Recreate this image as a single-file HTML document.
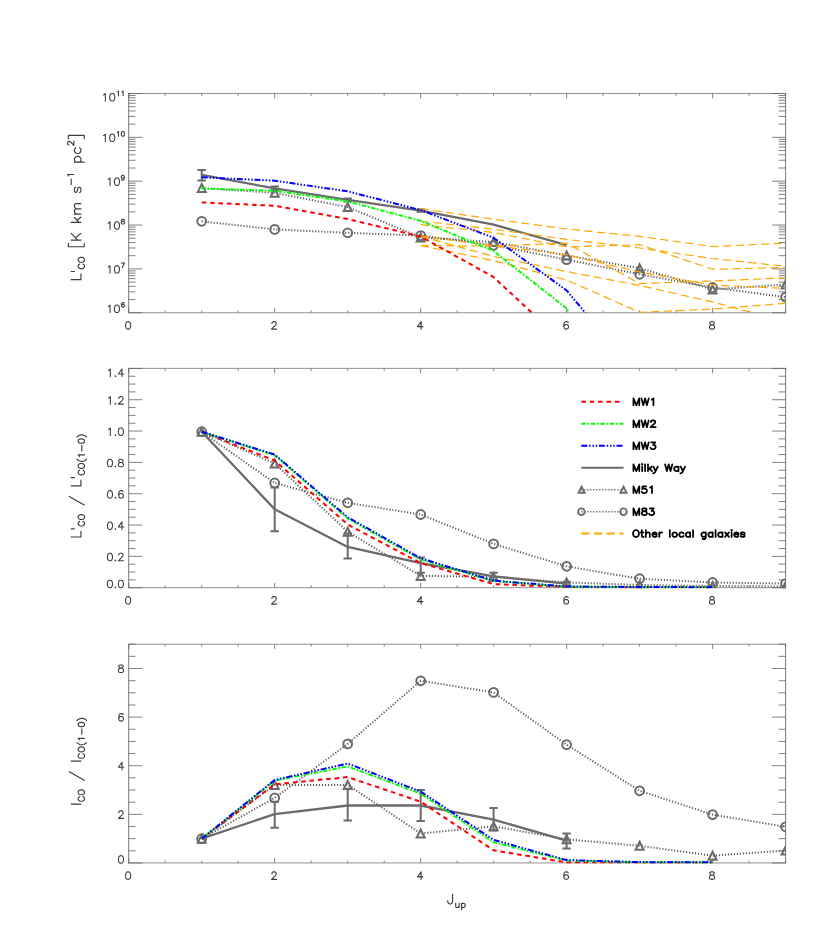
<!DOCTYPE html>
<html><head><meta charset="utf-8"><title>CO SLED</title>
<style>
html,body{margin:0;padding:0;background:#fff;}
svg{display:block;}
text{font-family:"Liberation Sans",sans-serif;}
.tk{font-size:11.5px;fill:#3c3c3c;}
.ex{font-size:6.8px;}
.al{font-size:14.5px;fill:#3c3c3c;}
.sb{font-size:9px;}
.sb2{font-size:9px;fill:#3c3c3c;}
.lg{font-size:11.5px;font-weight:bold;fill:#000;}
polyline,line{fill:none;}
.or{stroke:#ffa500;stroke-width:1.2;stroke-dasharray:8.2 4.5;}
.rd{stroke:#ff0000;stroke-width:2;stroke-dasharray:4.6 3.8;}
.gn{stroke:#00ff00;stroke-width:2;stroke-dasharray:4.5 1.7 1.6 1.7;}
.bl{stroke:#0000ff;stroke-width:2;stroke-dasharray:6 1.8 1.5 1.8 1.5 1.8 1.5 1.7;}
.dt{stroke:#5a5a5a;stroke-width:2;stroke-dasharray:1.15 1.85;}
.mw{stroke:#6b6b6b;stroke-width:2.3;stroke-linejoin:round;}
.eb{stroke:#6b6b6b;stroke-width:2;fill:none;}
.mk{stroke:#6b6b6b;fill:none;stroke-linejoin:miter;}
.ht{stroke:#3c3c3c;fill:none;stroke-linecap:round;stroke-linejoin:round;}
.hl{stroke:#000;fill:none;stroke-linecap:round;stroke-linejoin:round;}
</style></head>
<body>
<svg width="830" height="935" viewBox="0 0 830 935">
<rect width="830" height="935" fill="#fff"/>
<path d="M128.2 93.5H786.1M128.2 312.75H786.1" stroke="#666" stroke-width="0.72" fill="none"/>
<path d="M128.7 93.1V313.15M785.6 93.1V313.15" stroke="#666" stroke-width="0.88" fill="none"/>
<path d="M128.70 312.75v-4.8M128.70 93.5v4.8M165.19 312.75v-2.4M165.19 93.5v2.4M201.69 312.75v-2.4M201.69 93.5v2.4M238.18 312.75v-2.4M238.18 93.5v2.4M274.68 312.75v-4.8M274.68 93.5v4.8M311.17 312.75v-2.4M311.17 93.5v2.4M347.67 312.75v-2.4M347.67 93.5v2.4M384.16 312.75v-2.4M384.16 93.5v2.4M420.66 312.75v-4.8M420.66 93.5v4.8M457.15 312.75v-2.4M457.15 93.5v2.4M493.64 312.75v-2.4M493.64 93.5v2.4M530.14 312.75v-2.4M530.14 93.5v2.4M566.63 312.75v-4.8M566.63 93.5v4.8M603.13 312.75v-2.4M603.13 93.5v2.4M639.62 312.75v-2.4M639.62 93.5v2.4M676.12 312.75v-2.4M676.12 93.5v2.4M712.61 312.75v-4.8M712.61 93.5v4.8M749.11 312.75v-2.4M749.11 93.5v2.4M785.60 312.75v-2.4M785.60 93.5v2.4M128.7 312.75h13.6M785.6 312.75h-13.6M128.7 268.90h13.6M785.6 268.90h-13.6M128.7 225.05h13.6M785.6 225.05h-13.6M128.7 181.20h13.6M785.6 181.20h-13.6M128.7 137.35h13.6M785.6 137.35h-13.6M128.7 93.50h13.6M785.6 93.50h-13.6M128.7 299.55h6.9M785.6 299.55h-6.9M128.7 291.83h6.9M785.6 291.83h-6.9M128.7 286.35h6.9M785.6 286.35h-6.9M128.7 282.10h6.9M785.6 282.10h-6.9M128.7 278.63h6.9M785.6 278.63h-6.9M128.7 275.69h6.9M785.6 275.69h-6.9M128.7 273.15h6.9M785.6 273.15h-6.9M128.7 270.91h6.9M785.6 270.91h-6.9M128.7 255.70h6.9M785.6 255.70h-6.9M128.7 247.98h6.9M785.6 247.98h-6.9M128.7 242.50h6.9M785.6 242.50h-6.9M128.7 238.25h6.9M785.6 238.25h-6.9M128.7 234.78h6.9M785.6 234.78h-6.9M128.7 231.84h6.9M785.6 231.84h-6.9M128.7 229.30h6.9M785.6 229.30h-6.9M128.7 227.06h6.9M785.6 227.06h-6.9M128.7 211.85h6.9M785.6 211.85h-6.9M128.7 204.13h6.9M785.6 204.13h-6.9M128.7 198.65h6.9M785.6 198.65h-6.9M128.7 194.40h6.9M785.6 194.40h-6.9M128.7 190.93h6.9M785.6 190.93h-6.9M128.7 187.99h6.9M785.6 187.99h-6.9M128.7 185.45h6.9M785.6 185.45h-6.9M128.7 183.21h6.9M785.6 183.21h-6.9M128.7 168.00h6.9M785.6 168.00h-6.9M128.7 160.28h6.9M785.6 160.28h-6.9M128.7 154.80h6.9M785.6 154.80h-6.9M128.7 150.55h6.9M785.6 150.55h-6.9M128.7 147.08h6.9M785.6 147.08h-6.9M128.7 144.14h6.9M785.6 144.14h-6.9M128.7 141.60h6.9M785.6 141.60h-6.9M128.7 139.36h6.9M785.6 139.36h-6.9M128.7 124.15h6.9M785.6 124.15h-6.9M128.7 116.43h6.9M785.6 116.43h-6.9M128.7 110.95h6.9M785.6 110.95h-6.9M128.7 106.70h6.9M785.6 106.70h-6.9M128.7 103.23h6.9M785.6 103.23h-6.9M128.7 100.29h6.9M785.6 100.29h-6.9M128.7 97.75h6.9M785.6 97.75h-6.9M128.7 95.51h6.9M785.6 95.51h-6.9" stroke="#666" stroke-width="0.82" fill="none"/>
<path transform="translate(128.10,329.15)" d="M-0.36 -7.50L-1.45 -7.14L-2.18 -6.07L-2.54 -4.28L-2.54 -3.21L-2.18 -1.43L-1.45 -0.36L-0.36 0.00L0.36 0.00L1.45 -0.36L2.18 -1.43L2.54 -3.21L2.54 -4.28L2.18 -6.07L1.45 -7.14L0.36 -7.50L-0.36 -7.50" class="ht" stroke-width="1.08"/>
<path transform="translate(274.08,329.15)" d="M-2.18 -5.71L-2.18 -6.07L-1.82 -6.78L-1.45 -7.14L-0.73 -7.50L0.73 -7.50L1.45 -7.14L1.82 -6.78L2.18 -6.07L2.18 -5.35L1.82 -4.64L1.09 -3.57L-2.54 0.00L2.54 0.00" class="ht" stroke-width="1.08"/>
<path transform="translate(420.06,329.15)" d="M1.09 -7.50L-2.54 -2.50L2.91 -2.50M1.09 -7.50L1.09 0.00" class="ht" stroke-width="1.08"/>
<path transform="translate(566.03,329.15)" d="M2.18 -6.43L1.82 -7.14L0.73 -7.50L0.00 -7.50L-1.09 -7.14L-1.82 -6.07L-2.18 -4.28L-2.18 -2.50L-1.82 -1.07L-1.09 -0.36L0.00 0.00L0.36 0.00L1.45 -0.36L2.18 -1.07L2.54 -2.14L2.54 -2.50L2.18 -3.57L1.45 -4.28L0.36 -4.64L0.00 -4.64L-1.09 -4.28L-1.82 -3.57L-2.18 -2.50" class="ht" stroke-width="1.08"/>
<path transform="translate(712.01,329.15)" d="M-0.73 -7.50L-1.82 -7.14L-2.18 -6.43L-2.18 -5.71L-1.82 -5.00L-1.09 -4.64L0.36 -4.28L1.45 -3.93L2.18 -3.21L2.54 -2.50L2.54 -1.43L2.18 -0.71L1.82 -0.36L0.73 0.00L-0.73 0.00L-1.82 -0.36L-2.18 -0.71L-2.54 -1.43L-2.54 -2.50L-2.18 -3.21L-1.45 -3.93L-0.36 -4.28L1.09 -4.64L1.82 -5.00L2.18 -5.71L2.18 -6.43L1.82 -7.14L0.73 -7.50L-0.73 -7.50" class="ht" stroke-width="1.08"/>
<path transform="translate(125.20,312.55)" d="M-17.01 -6.07L-16.28 -6.43L-15.19 -7.50L-15.19 0.00M-8.65 -7.50L-9.74 -7.14L-10.47 -6.07L-10.83 -4.28L-10.83 -3.21L-10.47 -1.43L-9.74 -0.36L-8.65 0.00L-7.92 0.00L-6.83 -0.36L-6.11 -1.43L-5.74 -3.21L-5.74 -4.28L-6.11 -6.07L-6.83 -7.14L-7.92 -7.50L-8.65 -7.50M-0.93 -9.36L-1.16 -9.82L-1.86 -10.05L-2.33 -10.05L-3.02 -9.82L-3.49 -9.13L-3.72 -7.99L-3.72 -6.85L-3.49 -5.93L-3.02 -5.48L-2.33 -5.25L-2.09 -5.25L-1.40 -5.48L-0.93 -5.93L-0.70 -6.62L-0.70 -6.85L-0.93 -7.53L-1.40 -7.99L-2.09 -8.22L-2.33 -8.22L-3.02 -7.99L-3.49 -7.53L-3.72 -6.85" class="ht" stroke-width="1.08"/>
<path transform="translate(125.20,273.10)" d="M-17.01 -6.07L-16.28 -6.43L-15.19 -7.50L-15.19 0.00M-8.65 -7.50L-9.74 -7.14L-10.47 -6.07L-10.83 -4.28L-10.83 -3.21L-10.47 -1.43L-9.74 -0.36L-8.65 0.00L-7.92 0.00L-6.83 -0.36L-6.11 -1.43L-5.74 -3.21L-5.74 -4.28L-6.11 -6.07L-6.83 -7.14L-7.92 -7.50L-8.65 -7.50M-0.70 -10.05L-3.02 -5.25M-3.95 -10.05L-0.70 -10.05" class="ht" stroke-width="1.08"/>
<path transform="translate(125.20,229.25)" d="M-17.01 -6.07L-16.28 -6.43L-15.19 -7.50L-15.19 0.00M-8.65 -7.50L-9.74 -7.14L-10.47 -6.07L-10.83 -4.28L-10.83 -3.21L-10.47 -1.43L-9.74 -0.36L-8.65 0.00L-7.92 0.00L-6.83 -0.36L-6.11 -1.43L-5.74 -3.21L-5.74 -4.28L-6.11 -6.07L-6.83 -7.14L-7.92 -7.50L-8.65 -7.50M-2.79 -10.05L-3.49 -9.82L-3.72 -9.36L-3.72 -8.90L-3.49 -8.45L-3.02 -8.22L-2.09 -7.99L-1.40 -7.76L-0.93 -7.30L-0.70 -6.85L-0.70 -6.16L-0.93 -5.70L-1.16 -5.48L-1.86 -5.25L-2.79 -5.25L-3.49 -5.48L-3.72 -5.70L-3.95 -6.16L-3.95 -6.85L-3.72 -7.30L-3.26 -7.76L-2.56 -7.99L-1.63 -8.22L-1.16 -8.45L-0.93 -8.90L-0.93 -9.36L-1.16 -9.82L-1.86 -10.05L-2.79 -10.05" class="ht" stroke-width="1.08"/>
<path transform="translate(125.20,185.40)" d="M-17.01 -6.07L-16.28 -6.43L-15.19 -7.50L-15.19 0.00M-8.65 -7.50L-9.74 -7.14L-10.47 -6.07L-10.83 -4.28L-10.83 -3.21L-10.47 -1.43L-9.74 -0.36L-8.65 0.00L-7.92 0.00L-6.83 -0.36L-6.11 -1.43L-5.74 -3.21L-5.74 -4.28L-6.11 -6.07L-6.83 -7.14L-7.92 -7.50L-8.65 -7.50M-0.93 -8.45L-1.16 -7.76L-1.63 -7.30L-2.33 -7.08L-2.56 -7.08L-3.26 -7.30L-3.72 -7.76L-3.95 -8.45L-3.95 -8.68L-3.72 -9.36L-3.26 -9.82L-2.56 -10.05L-2.33 -10.05L-1.63 -9.82L-1.16 -9.36L-0.93 -8.45L-0.93 -7.30L-1.16 -6.16L-1.63 -5.48L-2.33 -5.25L-2.79 -5.25L-3.49 -5.48L-3.72 -5.93" class="ht" stroke-width="1.08"/>
<path transform="translate(125.20,141.55)" d="M-21.66 -6.07L-20.94 -6.43L-19.85 -7.50L-19.85 0.00M-13.30 -7.50L-14.39 -7.14L-15.12 -6.07L-15.49 -4.28L-15.49 -3.21L-15.12 -1.43L-14.39 -0.36L-13.30 0.00L-12.58 0.00L-11.49 -0.36L-10.76 -1.43L-10.40 -3.21L-10.40 -4.28L-10.76 -6.07L-11.49 -7.14L-12.58 -7.50L-13.30 -7.50M-7.91 -9.13L-7.44 -9.36L-6.75 -10.05L-6.75 -5.25M-2.56 -10.05L-3.26 -9.82L-3.72 -9.13L-3.95 -7.99L-3.95 -7.30L-3.72 -6.16L-3.26 -5.48L-2.56 -5.25L-2.09 -5.25L-1.40 -5.48L-0.93 -6.16L-0.70 -7.30L-0.70 -7.99L-0.93 -9.13L-1.40 -9.82L-2.09 -10.05L-2.56 -10.05" class="ht" stroke-width="1.08"/>
<path transform="translate(125.20,101.00)" d="M-21.66 -6.07L-20.94 -6.43L-19.85 -7.50L-19.85 0.00M-13.30 -7.50L-14.39 -7.14L-15.12 -6.07L-15.49 -4.28L-15.49 -3.21L-15.12 -1.43L-14.39 -0.36L-13.30 0.00L-12.58 0.00L-11.49 -0.36L-10.76 -1.43L-10.40 -3.21L-10.40 -4.28L-10.76 -6.07L-11.49 -7.14L-12.58 -7.50L-13.30 -7.50M-7.91 -9.13L-7.44 -9.36L-6.75 -10.05L-6.75 -5.25M-3.26 -9.13L-2.79 -9.36L-2.09 -10.05L-2.09 -5.25" class="ht" stroke-width="1.08"/>
<clipPath id="c1"><rect x="128.7" y="93.5" width="656.9000000000001" height="219.25"/></clipPath>
<g clip-path="url(#c1)"><polyline points="201.7,188.1 274.7,192.8 347.7,207.1 420.7,237.4 493.6,242.1 566.6,255.4 639.6,268.2 712.6,289.4 785.6,284.6" class="dt" />
<polyline points="201.7,221.3 274.7,229.4 347.7,232.8 420.7,235.6 493.6,245.3 566.6,259.6 639.6,274.3 712.6,287.5 785.6,297.1" class="dt" />
<polyline points="201.7,174.9 274.7,188.4 347.7,199.8 420.7,210.6 493.6,224.6 566.6,245.1" class="mw" />
<path d="M201.7 170.1V180.4M197.5 170.1h8.4M197.5 180.4h8.4" class="eb"/>
<path d="M274.7 186.6V190.2M270.5 186.6h8.4M270.5 190.2h8.4" class="eb"/>
<path d="M347.7 198.4V201.4M343.5 198.4h8.4M343.5 201.4h8.4" class="eb"/>
<path d="M420.7 209.4V211.8M416.5 209.4h8.4M416.5 211.8h8.4" class="eb"/>
<path d="M197.7 192.1L201.7 184.1L205.7 192.1Z" class="mk" stroke-width="2.0"/>
<path d="M270.7 196.8L274.7 188.8L278.7 196.8Z" class="mk" stroke-width="2.0"/>
<path d="M343.7 211.1L347.7 203.1L351.7 211.1Z" class="mk" stroke-width="2.0"/>
<path d="M416.7 241.4L420.7 233.4L424.7 241.4Z" class="mk" stroke-width="2.0"/>
<path d="M489.6 246.1L493.6 238.1L497.6 246.1Z" class="mk" stroke-width="2.0"/>
<path d="M562.6 259.4L566.6 251.4L570.6 259.4Z" class="mk" stroke-width="2.0"/>
<path d="M635.6 272.2L639.6 264.2L643.6 272.2Z" class="mk" stroke-width="2.0"/>
<path d="M708.6 293.4L712.6 285.4L716.6 293.4Z" class="mk" stroke-width="2.0"/>
<path d="M781.6 288.6L785.6 280.6L789.6 288.6Z" class="mk" stroke-width="2.0"/>
<circle cx="201.7" cy="221.3" r="4.4" class="mk" stroke-width="2.0"/>
<circle cx="274.7" cy="229.4" r="4.4" class="mk" stroke-width="2.0"/>
<circle cx="347.7" cy="232.8" r="4.4" class="mk" stroke-width="2.0"/>
<circle cx="420.7" cy="235.6" r="4.4" class="mk" stroke-width="2.0"/>
<circle cx="493.6" cy="245.3" r="4.4" class="mk" stroke-width="2.0"/>
<circle cx="566.6" cy="259.6" r="4.4" class="mk" stroke-width="2.0"/>
<circle cx="639.6" cy="274.3" r="4.4" class="mk" stroke-width="2.0"/>
<circle cx="712.6" cy="287.5" r="4.4" class="mk" stroke-width="2.0"/>
<circle cx="785.6" cy="297.1" r="4.4" class="mk" stroke-width="2.0"/>
<polyline points="420.7,208.7 493.6,219.2 566.6,229.0 639.6,236.4 712.6,246.6 785.6,243.1" class="or" />
<polyline points="420.7,221.1 493.6,229.2 566.6,239.4 639.6,248.0 712.6,258.5 785.6,266.3" class="or" />
<polyline points="420.7,224.7 493.6,232.5 566.6,247.0 639.6,244.7 712.6,269.2 785.6,267.5" class="or" />
<polyline points="420.7,245.5 493.6,246.1 566.6,243.1 639.6,283.6 712.6,281.0 785.6,277.8" class="or" />
<polyline points="420.7,236.0 493.6,245.8 566.6,254.7 639.6,272.0 712.6,285.0 785.6,288.4" class="or" />
<polyline points="420.7,236.3 493.6,256.4 566.6,271.5 639.6,285.5 712.6,301.9 785.6,322.0" class="or" />
<polyline points="420.7,245.5 493.6,260.6 566.6,280.0 639.6,312.3 712.6,309.1 785.6,303.3" class="or" />
<polyline points="201.7,202.4 274.7,205.8 347.7,219.0 420.7,236.6 493.6,277.1 566.6,345.0" class="rd" />
<polyline points="201.7,188.4 274.7,190.8 347.7,201.4 420.7,220.8 493.6,251.0 566.6,308.4 639.6,438.0" class="gn" />
<polyline points="201.7,177.3 274.7,180.7 347.7,191.3 420.7,210.1 493.6,237.8 566.6,290.4 639.6,377.6" class="bl" /></g>
<path d="M128.2 368.4H786.1M128.2 587.7H786.1" stroke="#666" stroke-width="0.72" fill="none"/>
<path d="M128.7 368.0V588.1M785.6 368.0V588.1" stroke="#666" stroke-width="0.88" fill="none"/>
<path d="M128.70 587.7v-4.8M128.70 368.4v4.8M165.19 587.7v-2.4M165.19 368.4v2.4M201.69 587.7v-2.4M201.69 368.4v2.4M238.18 587.7v-2.4M238.18 368.4v2.4M274.68 587.7v-4.8M274.68 368.4v4.8M311.17 587.7v-2.4M311.17 368.4v2.4M347.67 587.7v-2.4M347.67 368.4v2.4M384.16 587.7v-2.4M384.16 368.4v2.4M420.66 587.7v-4.8M420.66 368.4v4.8M457.15 587.7v-2.4M457.15 368.4v2.4M493.64 587.7v-2.4M493.64 368.4v2.4M530.14 587.7v-2.4M530.14 368.4v2.4M566.63 587.7v-4.8M566.63 368.4v4.8M603.13 587.7v-2.4M603.13 368.4v2.4M639.62 587.7v-2.4M639.62 368.4v2.4M676.12 587.7v-2.4M676.12 368.4v2.4M712.61 587.7v-4.8M712.61 368.4v4.8M749.11 587.7v-2.4M749.11 368.4v2.4M785.60 587.7v-2.4M785.60 368.4v2.4M128.7 587.70h13.6M785.6 587.70h-13.6M128.7 556.37h13.6M785.6 556.37h-13.6M128.7 525.04h13.6M785.6 525.04h-13.6M128.7 493.71h13.6M785.6 493.71h-13.6M128.7 462.39h13.6M785.6 462.39h-13.6M128.7 431.06h13.6M785.6 431.06h-13.6M128.7 399.73h13.6M785.6 399.73h-13.6M128.7 368.40h13.6M785.6 368.40h-13.6M128.7 579.87h6.9M785.6 579.87h-6.9M128.7 572.04h6.9M785.6 572.04h-6.9M128.7 564.20h6.9M785.6 564.20h-6.9M128.7 548.54h6.9M785.6 548.54h-6.9M128.7 540.71h6.9M785.6 540.71h-6.9M128.7 532.88h6.9M785.6 532.88h-6.9M128.7 517.21h6.9M785.6 517.21h-6.9M128.7 509.38h6.9M785.6 509.38h-6.9M128.7 501.55h6.9M785.6 501.55h-6.9M128.7 485.88h6.9M785.6 485.88h-6.9M128.7 478.05h6.9M785.6 478.05h-6.9M128.7 470.22h6.9M785.6 470.22h-6.9M128.7 454.55h6.9M785.6 454.55h-6.9M128.7 446.72h6.9M785.6 446.72h-6.9M128.7 438.89h6.9M785.6 438.89h-6.9M128.7 423.23h6.9M785.6 423.23h-6.9M128.7 415.39h6.9M785.6 415.39h-6.9M128.7 407.56h6.9M785.6 407.56h-6.9M128.7 391.90h6.9M785.6 391.90h-6.9M128.7 384.06h6.9M785.6 384.06h-6.9M128.7 376.23h6.9M785.6 376.23h-6.9" stroke="#666" stroke-width="0.82" fill="none"/>
<path transform="translate(128.10,604.10)" d="M-0.36 -7.50L-1.45 -7.14L-2.18 -6.07L-2.54 -4.28L-2.54 -3.21L-2.18 -1.43L-1.45 -0.36L-0.36 0.00L0.36 0.00L1.45 -0.36L2.18 -1.43L2.54 -3.21L2.54 -4.28L2.18 -6.07L1.45 -7.14L0.36 -7.50L-0.36 -7.50" class="ht" stroke-width="1.08"/>
<path transform="translate(274.08,604.10)" d="M-2.18 -5.71L-2.18 -6.07L-1.82 -6.78L-1.45 -7.14L-0.73 -7.50L0.73 -7.50L1.45 -7.14L1.82 -6.78L2.18 -6.07L2.18 -5.35L1.82 -4.64L1.09 -3.57L-2.54 0.00L2.54 0.00" class="ht" stroke-width="1.08"/>
<path transform="translate(420.06,604.10)" d="M1.09 -7.50L-2.54 -2.50L2.91 -2.50M1.09 -7.50L1.09 0.00" class="ht" stroke-width="1.08"/>
<path transform="translate(566.03,604.10)" d="M2.18 -6.43L1.82 -7.14L0.73 -7.50L0.00 -7.50L-1.09 -7.14L-1.82 -6.07L-2.18 -4.28L-2.18 -2.50L-1.82 -1.07L-1.09 -0.36L0.00 0.00L0.36 0.00L1.45 -0.36L2.18 -1.07L2.54 -2.14L2.54 -2.50L2.18 -3.57L1.45 -4.28L0.36 -4.64L0.00 -4.64L-1.09 -4.28L-1.82 -3.57L-2.18 -2.50" class="ht" stroke-width="1.08"/>
<path transform="translate(712.01,604.10)" d="M-0.73 -7.50L-1.82 -7.14L-2.18 -6.43L-2.18 -5.71L-1.82 -5.00L-1.09 -4.64L0.36 -4.28L1.45 -3.93L2.18 -3.21L2.54 -2.50L2.54 -1.43L2.18 -0.71L1.82 -0.36L0.73 0.00L-0.73 0.00L-1.82 -0.36L-2.18 -0.71L-2.54 -1.43L-2.54 -2.50L-2.18 -3.21L-1.45 -3.93L-0.36 -4.28L1.09 -4.64L1.82 -5.00L2.18 -5.71L2.18 -6.43L1.82 -7.14L0.73 -7.50L-0.73 -7.50" class="ht" stroke-width="1.08"/>
<path transform="translate(124.50,587.70)" d="M-14.90 -7.50L-15.99 -7.14L-16.72 -6.07L-17.08 -4.28L-17.08 -3.21L-16.72 -1.43L-15.99 -0.36L-14.90 0.00L-14.18 0.00L-13.09 -0.36L-12.36 -1.43L-12.00 -3.21L-12.00 -4.28L-12.36 -6.07L-13.09 -7.14L-14.18 -7.50L-14.90 -7.50M-9.09 -0.71L-9.45 -0.36L-9.09 0.00L-8.72 -0.36L-9.09 -0.71M-4.00 -7.50L-5.09 -7.14L-5.82 -6.07L-6.18 -4.28L-6.18 -3.21L-5.82 -1.43L-5.09 -0.36L-4.00 0.00L-3.27 0.00L-2.18 -0.36L-1.45 -1.43L-1.09 -3.21L-1.09 -4.28L-1.45 -6.07L-2.18 -7.14L-3.27 -7.50L-4.00 -7.50" class="ht" stroke-width="1.08"/>
<path transform="translate(124.50,560.77)" d="M-14.90 -7.50L-15.99 -7.14L-16.72 -6.07L-17.08 -4.28L-17.08 -3.21L-16.72 -1.43L-15.99 -0.36L-14.90 0.00L-14.18 0.00L-13.09 -0.36L-12.36 -1.43L-12.00 -3.21L-12.00 -4.28L-12.36 -6.07L-13.09 -7.14L-14.18 -7.50L-14.90 -7.50M-9.09 -0.71L-9.45 -0.36L-9.09 0.00L-8.72 -0.36L-9.09 -0.71M-5.82 -5.71L-5.82 -6.07L-5.45 -6.78L-5.09 -7.14L-4.36 -7.50L-2.91 -7.50L-2.18 -7.14L-1.82 -6.78L-1.45 -6.07L-1.45 -5.35L-1.82 -4.64L-2.54 -3.57L-6.18 0.00L-1.09 0.00" class="ht" stroke-width="1.08"/>
<path transform="translate(124.50,529.44)" d="M-14.90 -7.50L-15.99 -7.14L-16.72 -6.07L-17.08 -4.28L-17.08 -3.21L-16.72 -1.43L-15.99 -0.36L-14.90 0.00L-14.18 0.00L-13.09 -0.36L-12.36 -1.43L-12.00 -3.21L-12.00 -4.28L-12.36 -6.07L-13.09 -7.14L-14.18 -7.50L-14.90 -7.50M-9.09 -0.71L-9.45 -0.36L-9.09 0.00L-8.72 -0.36L-9.09 -0.71M-2.54 -7.50L-6.18 -2.50L-0.73 -2.50M-2.54 -7.50L-2.54 0.00" class="ht" stroke-width="1.08"/>
<path transform="translate(124.50,498.11)" d="M-14.90 -7.50L-15.99 -7.14L-16.72 -6.07L-17.08 -4.28L-17.08 -3.21L-16.72 -1.43L-15.99 -0.36L-14.90 0.00L-14.18 0.00L-13.09 -0.36L-12.36 -1.43L-12.00 -3.21L-12.00 -4.28L-12.36 -6.07L-13.09 -7.14L-14.18 -7.50L-14.90 -7.50M-9.09 -0.71L-9.45 -0.36L-9.09 0.00L-8.72 -0.36L-9.09 -0.71M-1.45 -6.43L-1.82 -7.14L-2.91 -7.50L-3.63 -7.50L-4.73 -7.14L-5.45 -6.07L-5.82 -4.28L-5.82 -2.50L-5.45 -1.07L-4.73 -0.36L-3.63 0.00L-3.27 0.00L-2.18 -0.36L-1.45 -1.07L-1.09 -2.14L-1.09 -2.50L-1.45 -3.57L-2.18 -4.28L-3.27 -4.64L-3.63 -4.64L-4.73 -4.28L-5.45 -3.57L-5.82 -2.50" class="ht" stroke-width="1.08"/>
<path transform="translate(124.50,466.79)" d="M-14.90 -7.50L-15.99 -7.14L-16.72 -6.07L-17.08 -4.28L-17.08 -3.21L-16.72 -1.43L-15.99 -0.36L-14.90 0.00L-14.18 0.00L-13.09 -0.36L-12.36 -1.43L-12.00 -3.21L-12.00 -4.28L-12.36 -6.07L-13.09 -7.14L-14.18 -7.50L-14.90 -7.50M-9.09 -0.71L-9.45 -0.36L-9.09 0.00L-8.72 -0.36L-9.09 -0.71M-4.36 -7.50L-5.45 -7.14L-5.82 -6.43L-5.82 -5.71L-5.45 -5.00L-4.73 -4.64L-3.27 -4.28L-2.18 -3.93L-1.45 -3.21L-1.09 -2.50L-1.09 -1.43L-1.45 -0.71L-1.82 -0.36L-2.91 0.00L-4.36 0.00L-5.45 -0.36L-5.82 -0.71L-6.18 -1.43L-6.18 -2.50L-5.82 -3.21L-5.09 -3.93L-4.00 -4.28L-2.54 -4.64L-1.82 -5.00L-1.45 -5.71L-1.45 -6.43L-1.82 -7.14L-2.91 -7.50L-4.36 -7.50" class="ht" stroke-width="1.08"/>
<path transform="translate(124.50,435.46)" d="M-15.99 -6.07L-15.27 -6.43L-14.18 -7.50L-14.18 0.00M-9.09 -0.71L-9.45 -0.36L-9.09 0.00L-8.72 -0.36L-9.09 -0.71M-4.00 -7.50L-5.09 -7.14L-5.82 -6.07L-6.18 -4.28L-6.18 -3.21L-5.82 -1.43L-5.09 -0.36L-4.00 0.00L-3.27 0.00L-2.18 -0.36L-1.45 -1.43L-1.09 -3.21L-1.09 -4.28L-1.45 -6.07L-2.18 -7.14L-3.27 -7.50L-4.00 -7.50" class="ht" stroke-width="1.08"/>
<path transform="translate(124.50,404.13)" d="M-15.99 -6.07L-15.27 -6.43L-14.18 -7.50L-14.18 0.00M-9.09 -0.71L-9.45 -0.36L-9.09 0.00L-8.72 -0.36L-9.09 -0.71M-5.82 -5.71L-5.82 -6.07L-5.45 -6.78L-5.09 -7.14L-4.36 -7.50L-2.91 -7.50L-2.18 -7.14L-1.82 -6.78L-1.45 -6.07L-1.45 -5.35L-1.82 -4.64L-2.54 -3.57L-6.18 0.00L-1.09 0.00" class="ht" stroke-width="1.08"/>
<path transform="translate(124.50,376.50)" d="M-15.99 -6.07L-15.27 -6.43L-14.18 -7.50L-14.18 0.00M-9.09 -0.71L-9.45 -0.36L-9.09 0.00L-8.72 -0.36L-9.09 -0.71M-2.54 -7.50L-6.18 -2.50L-0.73 -2.50M-2.54 -7.50L-2.54 0.00" class="ht" stroke-width="1.08"/>
<clipPath id="c2"><rect x="128.7" y="362.4" width="656.9000000000001" height="225.90000000000006"/></clipPath>
<g clip-path="url(#c2)"><polyline points="201.7,431.7 274.7,463.5 347.7,531.7 420.7,575.9 493.6,576.9 566.6,582.4 639.6,585.0 712.6,586.0 785.6,586.5" class="dt" />
<polyline points="201.7,431.7 274.7,483.0 347.7,502.8 420.7,514.5 493.6,543.9 566.6,566.3 639.6,578.7 712.6,582.5 785.6,583.6" class="dt" />
<polyline points="201.7,431.7 274.7,509.3 347.7,546.9 420.7,563.1 493.6,576.4 566.6,583.6" class="mw" />
<path d="M274.7 487.4V531.2M270.5 487.4h8.4M270.5 531.2h8.4" class="eb"/>
<path d="M347.7 533.5V558.4M343.5 533.5h8.4M343.5 558.4h8.4" class="eb"/>
<path d="M420.7 557.6V572.8M416.5 557.6h8.4M416.5 572.8h8.4" class="eb"/>
<path d="M493.6 572.8V580.0M489.4 572.8h8.4M489.4 580.0h8.4" class="eb"/>
<path d="M566.6 581.8V585.4M562.4 581.8h8.4M562.4 585.4h8.4" class="eb"/>
<path d="M197.7 435.7L201.7 427.7L205.7 435.7Z" class="mk" stroke-width="2.0"/>
<path d="M270.7 467.5L274.7 459.5L278.7 467.5Z" class="mk" stroke-width="2.0"/>
<path d="M343.7 535.7L347.7 527.7L351.7 535.7Z" class="mk" stroke-width="2.0"/>
<path d="M416.7 579.9L420.7 571.9L424.7 579.9Z" class="mk" stroke-width="2.0"/>
<path d="M489.6 580.9L493.6 572.9L497.6 580.9Z" class="mk" stroke-width="2.0"/>
<path d="M562.6 586.4L566.6 578.4L570.6 586.4Z" class="mk" stroke-width="2.0"/>
<path d="M635.6 589.0L639.6 581.0L643.6 589.0Z" class="mk" stroke-width="2.0"/>
<path d="M708.6 590.0L712.6 582.0L716.6 590.0Z" class="mk" stroke-width="2.0"/>
<path d="M781.6 590.5L785.6 582.5L789.6 590.5Z" class="mk" stroke-width="2.0"/>
<circle cx="201.7" cy="431.7" r="4.4" class="mk" stroke-width="2.0"/>
<circle cx="274.7" cy="483.0" r="4.4" class="mk" stroke-width="2.0"/>
<circle cx="347.7" cy="502.8" r="4.4" class="mk" stroke-width="2.0"/>
<circle cx="420.7" cy="514.5" r="4.4" class="mk" stroke-width="2.0"/>
<circle cx="493.6" cy="543.9" r="4.4" class="mk" stroke-width="2.0"/>
<circle cx="566.6" cy="566.3" r="4.4" class="mk" stroke-width="2.0"/>
<circle cx="639.6" cy="578.7" r="4.4" class="mk" stroke-width="2.0"/>
<circle cx="712.6" cy="582.5" r="4.4" class="mk" stroke-width="2.0"/>
<circle cx="785.6" cy="583.6" r="4.4" class="mk" stroke-width="2.0"/>
<polyline points="201.7,431.7 274.7,460.6 347.7,524.5 420.7,563.1 493.6,584.1 566.6,586.9 639.6,587.2 712.6,587.3" class="rd" />
<polyline points="201.7,431.7 274.7,455.3 347.7,518.4 420.7,559.5 493.6,581.0 566.6,586.7 639.6,587.1 712.6,587.3" class="gn" />
<polyline points="201.7,431.7 274.7,454.6 347.7,517.2 420.7,558.3 493.6,580.7 566.6,586.5 639.6,587.0 712.6,587.2" class="bl" /></g>
<line x1="581.3" x2="623.5" y1="401.8" y2="401.8" class="rd"/>
<line x1="581.3" x2="623.5" y1="423.8" y2="423.8" class="gn"/>
<line x1="581.3" x2="623.5" y1="445.8" y2="445.8" class="bl"/>
<line x1="581.3" x2="623.5" y1="467.7" y2="467.7" class="mw" style="stroke-width:2"/>
<line x1="581.3" x2="623.5" y1="489.7" y2="489.7" class="dt" style="stroke-width:1.5"/>
<line x1="581.3" x2="623.5" y1="511.7" y2="511.7" class="dt" style="stroke-width:1.5"/>
<path d="M578.6 492.7L581.6 486.7L584.6 492.7Z" class="mk" stroke-width="1.9"/>
<path d="M620.5 492.7L623.5 486.7L626.5 492.7Z" class="mk" stroke-width="1.9"/>
<circle cx="581.4" cy="511.7" r="3.3" class="mk" stroke-width="1.9"/>
<circle cx="623.5" cy="511.7" r="3.3" class="mk" stroke-width="1.9"/>
<line x1="581.3" x2="623.5" y1="533.6" y2="533.6" class="or" style="stroke-width:2"/>
<path transform="translate(632.00,405.15)" d="M1.45 -6.76L1.45 0.00M1.45 -6.76L4.36 0.00M7.27 -6.76L4.36 0.00M7.27 -6.76L7.27 0.00M9.45 -6.76L11.27 0.00M13.09 -6.76L11.27 0.00M13.09 -6.76L14.90 0.00M16.72 -6.76L14.90 0.00M19.63 -5.47L20.36 -5.80L21.45 -6.76L21.45 0.00" class="hl" stroke-width="1.75"/>
<path transform="translate(632.00,427.15)" d="M1.45 -6.76L1.45 0.00M1.45 -6.76L4.36 0.00M7.27 -6.76L4.36 0.00M7.27 -6.76L7.27 0.00M9.45 -6.76L11.27 0.00M13.09 -6.76L11.27 0.00M13.09 -6.76L14.90 0.00M16.72 -6.76L14.90 0.00M18.90 -5.15L18.90 -5.47L19.27 -6.12L19.63 -6.44L20.36 -6.76L21.81 -6.76L22.54 -6.44L22.90 -6.12L23.26 -5.47L23.26 -4.83L22.90 -4.19L22.17 -3.22L18.54 0.00L23.63 0.00" class="hl" stroke-width="1.75"/>
<path transform="translate(632.00,449.15)" d="M1.45 -6.76L1.45 0.00M1.45 -6.76L4.36 0.00M7.27 -6.76L4.36 0.00M7.27 -6.76L7.27 0.00M9.45 -6.76L11.27 0.00M13.09 -6.76L11.27 0.00M13.09 -6.76L14.90 0.00M16.72 -6.76L14.90 0.00M19.27 -6.76L23.26 -6.76L21.08 -4.19L22.17 -4.19L22.90 -3.86L23.26 -3.54L23.63 -2.58L23.63 -1.93L23.26 -0.97L22.54 -0.32L21.45 0.00L20.36 0.00L19.27 -0.32L18.90 -0.64L18.54 -1.29" class="hl" stroke-width="1.75"/>
<path transform="translate(632.00,471.05)" d="M1.45 -6.76L1.45 0.00M1.45 -6.76L4.36 0.00M7.27 -6.76L4.36 0.00M7.27 -6.76L7.27 0.00M9.81 -6.76L10.18 -6.44L10.54 -6.76L10.18 -7.08L9.81 -6.76M10.18 -4.51L10.18 0.00M13.09 -6.76L13.09 0.00M15.99 -6.76L15.99 0.00M19.63 -4.51L15.99 -1.29M17.45 -2.58L19.99 0.00M21.45 -4.51L23.63 0.00M25.81 -4.51L23.63 0.00L22.90 1.29L22.17 1.93L21.45 2.25L21.08 2.25M33.08 -6.76L34.90 0.00M36.71 -6.76L34.90 0.00M36.71 -6.76L38.53 0.00M40.35 -6.76L38.53 0.00M46.53 -4.51L46.53 0.00M46.53 -3.54L45.80 -4.19L45.07 -4.51L43.98 -4.51L43.26 -4.19L42.53 -3.54L42.17 -2.58L42.17 -1.93L42.53 -0.97L43.26 -0.32L43.98 0.00L45.07 0.00L45.80 -0.32L46.53 -0.97M48.71 -4.51L50.89 0.00M53.07 -4.51L50.89 0.00L50.16 1.29L49.44 1.93L48.71 2.25L48.35 2.25" class="hl" stroke-width="1.75"/>
<path transform="translate(632.00,493.05)" d="M1.45 -6.76L1.45 0.00M1.45 -6.76L4.36 0.00M7.27 -6.76L4.36 0.00M7.27 -6.76L7.27 0.00M14.18 -6.76L10.54 -6.76L10.18 -3.86L10.54 -4.19L11.63 -4.51L12.72 -4.51L13.81 -4.19L14.54 -3.54L14.90 -2.58L14.90 -1.93L14.54 -0.97L13.81 -0.32L12.72 0.00L11.63 0.00L10.54 -0.32L10.18 -0.64L9.81 -1.29M18.18 -5.47L18.90 -5.80L19.99 -6.76L19.99 0.00" class="hl" stroke-width="1.75"/>
<path transform="translate(632.00,515.05)" d="M1.45 -6.76L1.45 0.00M1.45 -6.76L4.36 0.00M7.27 -6.76L4.36 0.00M7.27 -6.76L7.27 0.00M11.63 -6.76L10.54 -6.44L10.18 -5.80L10.18 -5.15L10.54 -4.51L11.27 -4.19L12.72 -3.86L13.81 -3.54L14.54 -2.90L14.90 -2.25L14.90 -1.29L14.54 -0.64L14.18 -0.32L13.09 0.00L11.63 0.00L10.54 -0.32L10.18 -0.64L9.81 -1.29L9.81 -2.25L10.18 -2.90L10.91 -3.54L12.00 -3.86L13.45 -4.19L14.18 -4.51L14.54 -5.15L14.54 -5.80L14.18 -6.44L13.09 -6.76L11.63 -6.76M17.81 -6.76L21.81 -6.76L19.63 -4.19L20.72 -4.19L21.45 -3.86L21.81 -3.54L22.17 -2.58L22.17 -1.93L21.81 -0.97L21.08 -0.32L19.99 0.00L18.90 0.00L17.81 -0.32L17.45 -0.64L17.08 -1.29" class="hl" stroke-width="1.75"/>
<path transform="translate(632.00,536.95)" d="M3.27 -6.76L2.54 -6.44L1.82 -5.80L1.45 -5.15L1.09 -4.19L1.09 -2.58L1.45 -1.61L1.82 -0.97L2.54 -0.32L3.27 0.00L4.73 0.00L5.45 -0.32L6.18 -0.97L6.54 -1.61L6.91 -2.58L6.91 -4.19L6.54 -5.15L6.18 -5.80L5.45 -6.44L4.73 -6.76L3.27 -6.76M9.81 -6.76L9.81 -1.29L10.18 -0.32L10.90 0.00L11.63 0.00M8.72 -4.51L11.27 -4.51M13.81 -6.76L13.81 0.00M13.81 -3.22L14.90 -4.19L15.63 -4.51L16.72 -4.51L17.45 -4.19L17.81 -3.22L17.81 0.00M20.36 -2.58L24.72 -2.58L24.72 -3.22L24.35 -3.86L23.99 -4.19L23.26 -4.51L22.17 -4.51L21.45 -4.19L20.72 -3.54L20.36 -2.58L20.36 -1.93L20.72 -0.97L21.45 -0.32L22.17 0.00L23.26 0.00L23.99 -0.32L24.72 -0.97M27.26 -4.51L27.26 0.00M27.26 -2.58L27.63 -3.54L28.35 -4.19L29.08 -4.51L30.17 -4.51M37.80 -6.76L37.80 0.00M42.17 -4.51L41.44 -4.19L40.71 -3.54L40.35 -2.58L40.35 -1.93L40.71 -0.97L41.44 -0.32L42.17 0.00L43.26 0.00L43.98 -0.32L44.71 -0.97L45.07 -1.93L45.07 -2.58L44.71 -3.54L43.98 -4.19L43.26 -4.51L42.17 -4.51M51.62 -3.54L50.89 -4.19L50.16 -4.51L49.07 -4.51L48.35 -4.19L47.62 -3.54L47.26 -2.58L47.26 -1.93L47.62 -0.97L48.35 -0.32L49.07 0.00L50.16 0.00L50.89 -0.32L51.62 -0.97M58.16 -4.51L58.16 0.00M58.16 -3.54L57.43 -4.19L56.71 -4.51L55.62 -4.51L54.89 -4.19L54.16 -3.54L53.80 -2.58L53.80 -1.93L54.16 -0.97L54.89 -0.32L55.62 0.00L56.71 0.00L57.43 -0.32L58.16 -0.97M61.07 -6.76L61.07 0.00M73.79 -4.51L73.79 0.64L73.43 1.61L73.06 1.93L72.34 2.25L71.25 2.25L70.52 1.93M73.79 -3.54L73.06 -4.19L72.34 -4.51L71.25 -4.51L70.52 -4.19L69.79 -3.54L69.43 -2.58L69.43 -1.93L69.79 -0.97L70.52 -0.32L71.25 0.00L72.34 0.00L73.06 -0.32L73.79 -0.97M80.70 -4.51L80.70 0.00M80.70 -3.54L79.97 -4.19L79.24 -4.51L78.15 -4.51L77.43 -4.19L76.70 -3.54L76.34 -2.58L76.34 -1.93L76.70 -0.97L77.43 -0.32L78.15 0.00L79.24 0.00L79.97 -0.32L80.70 -0.97M83.60 -6.76L83.60 0.00M90.51 -4.51L90.51 0.00M90.51 -3.54L89.78 -4.19L89.06 -4.51L87.97 -4.51L87.24 -4.19L86.51 -3.54L86.15 -2.58L86.15 -1.93L86.51 -0.97L87.24 -0.32L87.97 0.00L89.06 0.00L89.78 -0.32L90.51 -0.97M93.06 -4.51L97.05 0.00M97.05 -4.51L93.06 0.00M99.24 -6.76L99.60 -6.44L99.96 -6.76L99.60 -7.08L99.24 -6.76M99.60 -4.51L99.60 0.00M102.14 -2.58L106.51 -2.58L106.51 -3.22L106.14 -3.86L105.78 -4.19L105.05 -4.51L103.96 -4.51L103.23 -4.19L102.51 -3.54L102.14 -2.58L102.14 -1.93L102.51 -0.97L103.23 -0.32L103.96 0.00L105.05 0.00L105.78 -0.32L106.51 -0.97M112.69 -3.54L112.32 -4.19L111.23 -4.51L110.14 -4.51L109.05 -4.19L108.69 -3.54L109.05 -2.90L109.78 -2.58L111.59 -2.25L112.32 -1.93L112.69 -1.29L112.69 -0.97L112.32 -0.32L111.23 0.00L110.14 0.00L109.05 -0.32L108.69 -0.97" class="hl" stroke-width="1.75"/>
<path d="M128.2 644.2H786.1M128.2 862.95H786.1" stroke="#666" stroke-width="0.72" fill="none"/>
<path d="M128.7 643.8000000000001V863.35M785.6 643.8000000000001V863.35" stroke="#666" stroke-width="0.88" fill="none"/>
<path d="M128.70 862.95v-4.8M128.70 644.2v4.8M165.19 862.95v-2.4M165.19 644.2v2.4M201.69 862.95v-2.4M201.69 644.2v2.4M238.18 862.95v-2.4M238.18 644.2v2.4M274.68 862.95v-4.8M274.68 644.2v4.8M311.17 862.95v-2.4M311.17 644.2v2.4M347.67 862.95v-2.4M347.67 644.2v2.4M384.16 862.95v-2.4M384.16 644.2v2.4M420.66 862.95v-4.8M420.66 644.2v4.8M457.15 862.95v-2.4M457.15 644.2v2.4M493.64 862.95v-2.4M493.64 644.2v2.4M530.14 862.95v-2.4M530.14 644.2v2.4M566.63 862.95v-4.8M566.63 644.2v4.8M603.13 862.95v-2.4M603.13 644.2v2.4M639.62 862.95v-2.4M639.62 644.2v2.4M676.12 862.95v-2.4M676.12 644.2v2.4M712.61 862.95v-4.8M712.61 644.2v4.8M749.11 862.95v-2.4M749.11 644.2v2.4M785.60 862.95v-2.4M785.60 644.2v2.4M128.7 862.95h13.6M785.6 862.95h-13.6M128.7 814.34h13.6M785.6 814.34h-13.6M128.7 765.73h13.6M785.6 765.73h-13.6M128.7 717.12h13.6M785.6 717.12h-13.6M128.7 668.51h13.6M785.6 668.51h-13.6M128.7 850.80h6.9M785.6 850.80h-6.9M128.7 838.64h6.9M785.6 838.64h-6.9M128.7 826.49h6.9M785.6 826.49h-6.9M128.7 802.19h6.9M785.6 802.19h-6.9M128.7 790.03h6.9M785.6 790.03h-6.9M128.7 777.88h6.9M785.6 777.88h-6.9M128.7 753.58h6.9M785.6 753.58h-6.9M128.7 741.42h6.9M785.6 741.42h-6.9M128.7 729.27h6.9M785.6 729.27h-6.9M128.7 704.96h6.9M785.6 704.96h-6.9M128.7 692.81h6.9M785.6 692.81h-6.9M128.7 680.66h6.9M785.6 680.66h-6.9M128.7 656.35h6.9M785.6 656.35h-6.9M128.7 644.20h6.9M785.6 644.20h-6.9" stroke="#666" stroke-width="0.82" fill="none"/>
<path transform="translate(128.10,879.35)" d="M-0.36 -7.50L-1.45 -7.14L-2.18 -6.07L-2.54 -4.28L-2.54 -3.21L-2.18 -1.43L-1.45 -0.36L-0.36 0.00L0.36 0.00L1.45 -0.36L2.18 -1.43L2.54 -3.21L2.54 -4.28L2.18 -6.07L1.45 -7.14L0.36 -7.50L-0.36 -7.50" class="ht" stroke-width="1.08"/>
<path transform="translate(274.08,879.35)" d="M-2.18 -5.71L-2.18 -6.07L-1.82 -6.78L-1.45 -7.14L-0.73 -7.50L0.73 -7.50L1.45 -7.14L1.82 -6.78L2.18 -6.07L2.18 -5.35L1.82 -4.64L1.09 -3.57L-2.54 0.00L2.54 0.00" class="ht" stroke-width="1.08"/>
<path transform="translate(420.06,879.35)" d="M1.09 -7.50L-2.54 -2.50L2.91 -2.50M1.09 -7.50L1.09 0.00" class="ht" stroke-width="1.08"/>
<path transform="translate(566.03,879.35)" d="M2.18 -6.43L1.82 -7.14L0.73 -7.50L0.00 -7.50L-1.09 -7.14L-1.82 -6.07L-2.18 -4.28L-2.18 -2.50L-1.82 -1.07L-1.09 -0.36L0.00 0.00L0.36 0.00L1.45 -0.36L2.18 -1.07L2.54 -2.14L2.54 -2.50L2.18 -3.57L1.45 -4.28L0.36 -4.64L0.00 -4.64L-1.09 -4.28L-1.82 -3.57L-2.18 -2.50" class="ht" stroke-width="1.08"/>
<path transform="translate(712.01,879.35)" d="M-0.73 -7.50L-1.82 -7.14L-2.18 -6.43L-2.18 -5.71L-1.82 -5.00L-1.09 -4.64L0.36 -4.28L1.45 -3.93L2.18 -3.21L2.54 -2.50L2.54 -1.43L2.18 -0.71L1.82 -0.36L0.73 0.00L-0.73 0.00L-1.82 -0.36L-2.18 -0.71L-2.54 -1.43L-2.54 -2.50L-2.18 -3.21L-1.45 -3.93L-0.36 -4.28L1.09 -4.64L1.82 -5.00L2.18 -5.71L2.18 -6.43L1.82 -7.14L0.73 -7.50L-0.73 -7.50" class="ht" stroke-width="1.08"/>
<path transform="translate(124.60,863.15)" d="M-4.00 -7.50L-5.09 -7.14L-5.82 -6.07L-6.18 -4.28L-6.18 -3.21L-5.82 -1.43L-5.09 -0.36L-4.00 0.00L-3.27 0.00L-2.18 -0.36L-1.45 -1.43L-1.09 -3.21L-1.09 -4.28L-1.45 -6.07L-2.18 -7.14L-3.27 -7.50L-4.00 -7.50" class="ht" stroke-width="1.08"/>
<path transform="translate(124.60,818.34)" d="M-5.82 -5.71L-5.82 -6.07L-5.45 -6.78L-5.09 -7.14L-4.36 -7.50L-2.91 -7.50L-2.18 -7.14L-1.82 -6.78L-1.45 -6.07L-1.45 -5.35L-1.82 -4.64L-2.54 -3.57L-6.18 0.00L-1.09 0.00" class="ht" stroke-width="1.08"/>
<path transform="translate(124.60,769.73)" d="M-2.54 -7.50L-6.18 -2.50L-0.73 -2.50M-2.54 -7.50L-2.54 0.00" class="ht" stroke-width="1.08"/>
<path transform="translate(124.60,721.12)" d="M-1.45 -6.43L-1.82 -7.14L-2.91 -7.50L-3.63 -7.50L-4.73 -7.14L-5.45 -6.07L-5.82 -4.28L-5.82 -2.50L-5.45 -1.07L-4.73 -0.36L-3.63 0.00L-3.27 0.00L-2.18 -0.36L-1.45 -1.07L-1.09 -2.14L-1.09 -2.50L-1.45 -3.57L-2.18 -4.28L-3.27 -4.64L-3.63 -4.64L-4.73 -4.28L-5.45 -3.57L-5.82 -2.50" class="ht" stroke-width="1.08"/>
<path transform="translate(124.60,672.51)" d="M-4.36 -7.50L-5.45 -7.14L-5.82 -6.43L-5.82 -5.71L-5.45 -5.00L-4.73 -4.64L-3.27 -4.28L-2.18 -3.93L-1.45 -3.21L-1.09 -2.50L-1.09 -1.43L-1.45 -0.71L-1.82 -0.36L-2.91 0.00L-4.36 0.00L-5.45 -0.36L-5.82 -0.71L-6.18 -1.43L-6.18 -2.50L-5.82 -3.21L-5.09 -3.93L-4.00 -4.28L-2.54 -4.64L-1.82 -5.00L-1.45 -5.71L-1.45 -6.43L-1.82 -7.14L-2.91 -7.50L-4.36 -7.50" class="ht" stroke-width="1.08"/>
<clipPath id="c3"><rect x="128.7" y="644.2" width="656.9000000000001" height="219.35"/></clipPath>
<g clip-path="url(#c3)"><polyline points="201.7,838.7 274.7,784.9 347.7,784.9 420.7,833.5 493.6,826.3 566.6,839.3 639.6,845.8 712.6,855.7 785.6,850.5" class="dt" />
<polyline points="201.7,838.7 274.7,797.9 347.7,743.9 420.7,680.8 493.6,692.4 566.6,744.7 639.6,790.8 712.6,814.6 785.6,826.8" class="dt" />
<polyline points="201.7,838.7 274.7,814.1 347.7,805.5 420.7,805.5 493.6,819.6 566.6,840.7" class="mw" />
<path d="M274.7 801.7V827.7M270.5 801.7h8.4M270.5 827.7h8.4" class="eb"/>
<path d="M347.7 788.7V820.5M343.5 788.7h8.4M343.5 820.5h8.4" class="eb"/>
<path d="M420.7 790.1V821.1M416.5 790.1h8.4M416.5 821.1h8.4" class="eb"/>
<path d="M493.6 808.1V830.6M489.4 808.1h8.4M489.4 830.6h8.4" class="eb"/>
<path d="M566.6 833.5V848.5M562.4 833.5h8.4M562.4 848.5h8.4" class="eb"/>
<path d="M197.7 842.7L201.7 834.7L205.7 842.7Z" class="mk" stroke-width="2.0"/>
<path d="M270.7 788.9L274.7 780.9L278.7 788.9Z" class="mk" stroke-width="2.0"/>
<path d="M343.7 788.9L347.7 780.9L351.7 788.9Z" class="mk" stroke-width="2.0"/>
<path d="M416.7 837.5L420.7 829.5L424.7 837.5Z" class="mk" stroke-width="2.0"/>
<path d="M489.6 830.3L493.6 822.3L497.6 830.3Z" class="mk" stroke-width="2.0"/>
<path d="M562.6 843.3L566.6 835.3L570.6 843.3Z" class="mk" stroke-width="2.0"/>
<path d="M635.6 849.8L639.6 841.8L643.6 849.8Z" class="mk" stroke-width="2.0"/>
<path d="M708.6 859.7L712.6 851.7L716.6 859.7Z" class="mk" stroke-width="2.0"/>
<path d="M781.6 854.5L785.6 846.5L789.6 854.5Z" class="mk" stroke-width="2.0"/>
<circle cx="201.7" cy="838.7" r="4.4" class="mk" stroke-width="2.0"/>
<circle cx="274.7" cy="797.9" r="4.4" class="mk" stroke-width="2.0"/>
<circle cx="347.7" cy="743.9" r="4.4" class="mk" stroke-width="2.0"/>
<circle cx="420.7" cy="680.8" r="4.4" class="mk" stroke-width="2.0"/>
<circle cx="493.6" cy="692.4" r="4.4" class="mk" stroke-width="2.0"/>
<circle cx="566.6" cy="744.7" r="4.4" class="mk" stroke-width="2.0"/>
<circle cx="639.6" cy="790.8" r="4.4" class="mk" stroke-width="2.0"/>
<circle cx="712.6" cy="814.6" r="4.4" class="mk" stroke-width="2.0"/>
<circle cx="785.6" cy="826.8" r="4.4" class="mk" stroke-width="2.0"/>
<polyline points="201.7,838.7 274.7,784.3 347.7,777.1 420.7,801.7 493.6,850.3 566.6,862.4 639.6,862.5 712.6,862.5" class="rd" />
<polyline points="201.7,838.7 274.7,780.6 347.7,766.4 420.7,793.6 493.6,842.2 566.6,860.6 639.6,862.3 712.6,862.4" class="gn" />
<polyline points="201.7,838.7 274.7,780.0 347.7,763.5 420.7,791.6 493.6,839.9 566.6,860.1 639.6,862.1 712.6,862.3" class="bl" /></g>
<path transform="translate(80.95,281.60) rotate(-90)" d="M1.92 -9.81L1.92 0.00M1.92 0.00L7.68 0.00M10.08 -9.81L10.08 -6.54M17.53 -1.25L17.22 -1.85L16.61 -2.45L15.99 -2.75L14.76 -2.75L14.15 -2.45L13.54 -1.85L13.23 -1.25L12.92 -0.35L12.92 1.14L13.23 2.04L13.54 2.63L14.15 3.23L14.76 3.53L15.99 3.53L16.61 3.23L17.22 2.63L17.53 2.04M21.22 -2.75L20.60 -2.45L19.99 -1.85L19.68 -1.25L19.37 -0.35L19.37 1.14L19.68 2.04L19.99 2.63L20.60 3.23L21.22 3.53L22.44 3.53L23.06 3.23L23.67 2.63L23.98 2.04L24.29 1.14L24.29 -0.35L23.98 -1.25L23.67 -1.85L23.06 -2.45L22.44 -2.75L21.22 -2.75M34.81 -12.61L34.81 3.27M34.81 -12.61L38.17 -12.61M34.81 3.27L38.17 3.27M41.53 -9.81L41.53 0.00M48.25 -9.81L41.53 -3.27M43.93 -5.60L48.25 0.00M59.29 -9.81L59.29 0.00M64.09 -6.54L59.29 -1.87M61.21 -3.74L64.57 0.00M67.45 -6.54L67.45 0.00M67.45 -4.67L68.89 -6.07L69.85 -6.54L71.29 -6.54L72.25 -6.07L72.73 -4.67L72.73 0.00M72.73 -4.67L74.17 -6.07L75.13 -6.54L76.57 -6.54L77.53 -6.07L78.01 -4.67L78.01 0.00M94.33 -5.14L93.85 -6.07L92.41 -6.54L90.97 -6.54L89.53 -6.07L89.05 -5.14L89.53 -4.20L90.49 -3.74L92.89 -3.27L93.85 -2.80L94.33 -1.87L94.33 -1.40L93.85 -0.47L92.41 0.00L90.97 0.00L89.53 -0.47L89.05 -1.40M97.00 -9.75L102.53 -9.75M105.60 -12.14L106.21 -12.44L107.14 -13.34L107.14 -7.06M119.50 -6.54L119.50 3.27M119.50 -5.14L120.46 -6.07L121.42 -6.54L122.86 -6.54L123.82 -6.07L124.78 -5.14L125.26 -3.74L125.26 -2.80L124.78 -1.40L123.82 -0.47L122.86 0.00L121.42 0.00L120.46 -0.47L119.50 -1.40M133.90 -5.14L132.94 -6.07L131.98 -6.54L130.54 -6.54L129.58 -6.07L128.62 -5.14L128.14 -3.74L128.14 -2.80L128.62 -1.40L129.58 -0.47L130.54 0.00L131.98 0.00L132.94 -0.47L133.90 -1.40M136.57 -11.84L136.57 -12.14L136.88 -12.74L137.18 -13.04L137.80 -13.34L139.03 -13.34L139.64 -13.04L139.95 -12.74L140.26 -12.14L140.26 -11.54L139.95 -10.95L139.33 -10.05L136.26 -7.06L140.56 -7.06M146.28 -12.61L146.28 3.27M142.92 -12.61L146.28 -12.61M142.92 3.27L146.28 3.27" class="ht" stroke-width="1.15"/>
<path transform="translate(80.95,538.90) rotate(-90)" d="M1.92 -9.81L1.92 0.00M1.92 0.00L7.68 0.00M10.08 -9.81L10.08 -6.54M17.53 -1.25L17.22 -1.85L16.61 -2.45L15.99 -2.75L14.76 -2.75L14.15 -2.45L13.54 -1.85L13.23 -1.25L12.92 -0.35L12.92 1.14L13.23 2.04L13.54 2.63L14.15 3.23L14.76 3.53L15.99 3.53L16.61 3.23L17.22 2.63L17.53 2.04M21.22 -2.75L20.60 -2.45L19.99 -1.85L19.68 -1.25L19.37 -0.35L19.37 1.14L19.68 2.04L19.99 2.63L20.60 3.23L21.22 3.53L22.44 3.53L23.06 3.23L23.67 2.63L23.98 2.04L24.29 1.14L24.29 -0.35L23.98 -1.25L23.67 -1.85L23.06 -2.45L22.44 -2.75L21.22 -2.75M42.49 -11.68L33.85 3.27M53.05 -9.81L53.05 0.00M53.05 0.00L58.81 0.00M61.21 -9.81L61.21 -6.54M68.66 -1.25L68.35 -1.85L67.74 -2.45L67.12 -2.75L65.89 -2.75L65.28 -2.45L64.67 -1.85L64.36 -1.25L64.05 -0.35L64.05 1.14L64.36 2.04L64.67 2.63L65.28 3.23L65.89 3.53L67.12 3.53L67.74 3.23L68.35 2.63L68.66 2.04M72.35 -2.75L71.73 -2.45L71.12 -1.85L70.81 -1.25L70.50 -0.35L70.50 1.14L70.81 2.04L71.12 2.63L71.73 3.23L72.35 3.53L73.57 3.53L74.19 3.23L74.80 2.63L75.11 2.04L75.42 1.14L75.42 -0.35L75.11 -1.25L74.80 -1.85L74.19 -2.45L73.57 -2.75L72.35 -2.75M79.72 -3.94L79.10 -3.34L78.49 -2.45L77.88 -1.25L77.57 0.24L77.57 1.44L77.88 2.93L78.49 4.13L79.10 5.02L79.72 5.62M82.48 -1.55L83.10 -1.85L84.02 -2.75L84.02 3.53M88.01 0.84L93.54 0.84M97.54 -2.75L96.61 -2.45L96.00 -1.55L95.69 -0.06L95.69 0.84L96.00 2.33L96.61 3.23L97.54 3.53L98.15 3.53L99.07 3.23L99.69 2.33L99.99 0.84L99.99 -0.06L99.69 -1.55L99.07 -2.45L98.15 -2.75L97.54 -2.75M101.84 -3.94L102.45 -3.34L103.07 -2.45L103.68 -1.25L103.99 0.24L103.99 1.44L103.68 2.93L103.07 4.13L102.45 5.02L101.84 5.62" class="ht" stroke-width="1.15"/>
<path transform="translate(80.95,806.00) rotate(-90)" d="M1.92 -9.81L1.92 0.00M9.37 -1.25L9.06 -1.85L8.45 -2.45L7.83 -2.75L6.60 -2.75L5.99 -2.45L5.38 -1.85L5.07 -1.25L4.76 -0.35L4.76 1.14L5.07 2.04L5.38 2.63L5.99 3.23L6.60 3.53L7.83 3.53L8.45 3.23L9.06 2.63L9.37 2.04M13.06 -2.75L12.44 -2.45L11.83 -1.85L11.52 -1.25L11.21 -0.35L11.21 1.14L11.52 2.04L11.83 2.63L12.44 3.23L13.06 3.53L14.28 3.53L14.90 3.23L15.51 2.63L15.82 2.04L16.13 1.14L16.13 -0.35L15.82 -1.25L15.51 -1.85L14.90 -2.45L14.28 -2.75L13.06 -2.75M34.33 -11.68L25.69 3.27M44.89 -9.81L44.89 0.00M52.34 -1.25L52.03 -1.85L51.42 -2.45L50.80 -2.75L49.57 -2.75L48.96 -2.45L48.35 -1.85L48.04 -1.25L47.73 -0.35L47.73 1.14L48.04 2.04L48.35 2.63L48.96 3.23L49.57 3.53L50.80 3.53L51.42 3.23L52.03 2.63L52.34 2.04M56.03 -2.75L55.41 -2.45L54.80 -1.85L54.49 -1.25L54.18 -0.35L54.18 1.14L54.49 2.04L54.80 2.63L55.41 3.23L56.03 3.53L57.25 3.53L57.87 3.23L58.48 2.63L58.79 2.04L59.10 1.14L59.10 -0.35L58.79 -1.25L58.48 -1.85L57.87 -2.45L57.25 -2.75L56.03 -2.75M63.40 -3.94L62.78 -3.34L62.17 -2.45L61.56 -1.25L61.25 0.24L61.25 1.44L61.56 2.93L62.17 4.13L62.78 5.02L63.40 5.62M66.16 -1.55L66.78 -1.85L67.70 -2.75L67.70 3.53M71.69 0.84L77.22 0.84M81.22 -2.75L80.29 -2.45L79.68 -1.55L79.37 -0.06L79.37 0.84L79.68 2.33L80.29 3.23L81.22 3.53L81.83 3.53L82.75 3.23L83.37 2.33L83.67 0.84L83.67 -0.06L83.37 -1.55L82.75 -2.45L81.83 -2.75L81.22 -2.75M85.52 -3.94L86.13 -3.34L86.75 -2.45L87.36 -1.25L87.67 0.24L87.67 1.44L87.36 2.93L86.75 4.13L86.13 5.02L85.52 5.62" class="ht" stroke-width="1.15"/>
<path transform="translate(446.80,903.95)" d="M5.76 -9.81L5.76 -2.33L5.28 -0.93L4.80 -0.47L3.84 0.00L2.88 0.00L1.92 -0.47L1.44 -0.93L0.96 -2.33L0.96 -3.27M8.91 -0.65L8.91 2.33L9.22 3.23L9.83 3.53L10.75 3.53L11.37 3.23L12.29 2.33M12.29 -0.65L12.29 3.53M14.75 -0.65L14.75 5.62M14.75 0.24L15.36 -0.35L15.97 -0.65L16.90 -0.65L17.51 -0.35L18.12 0.24L18.43 1.14L18.43 1.74L18.12 2.63L17.51 3.23L16.90 3.53L15.97 3.53L15.36 3.23L14.75 2.63" class="ht" stroke-width="1.15"/>
</svg>
</body></html>
